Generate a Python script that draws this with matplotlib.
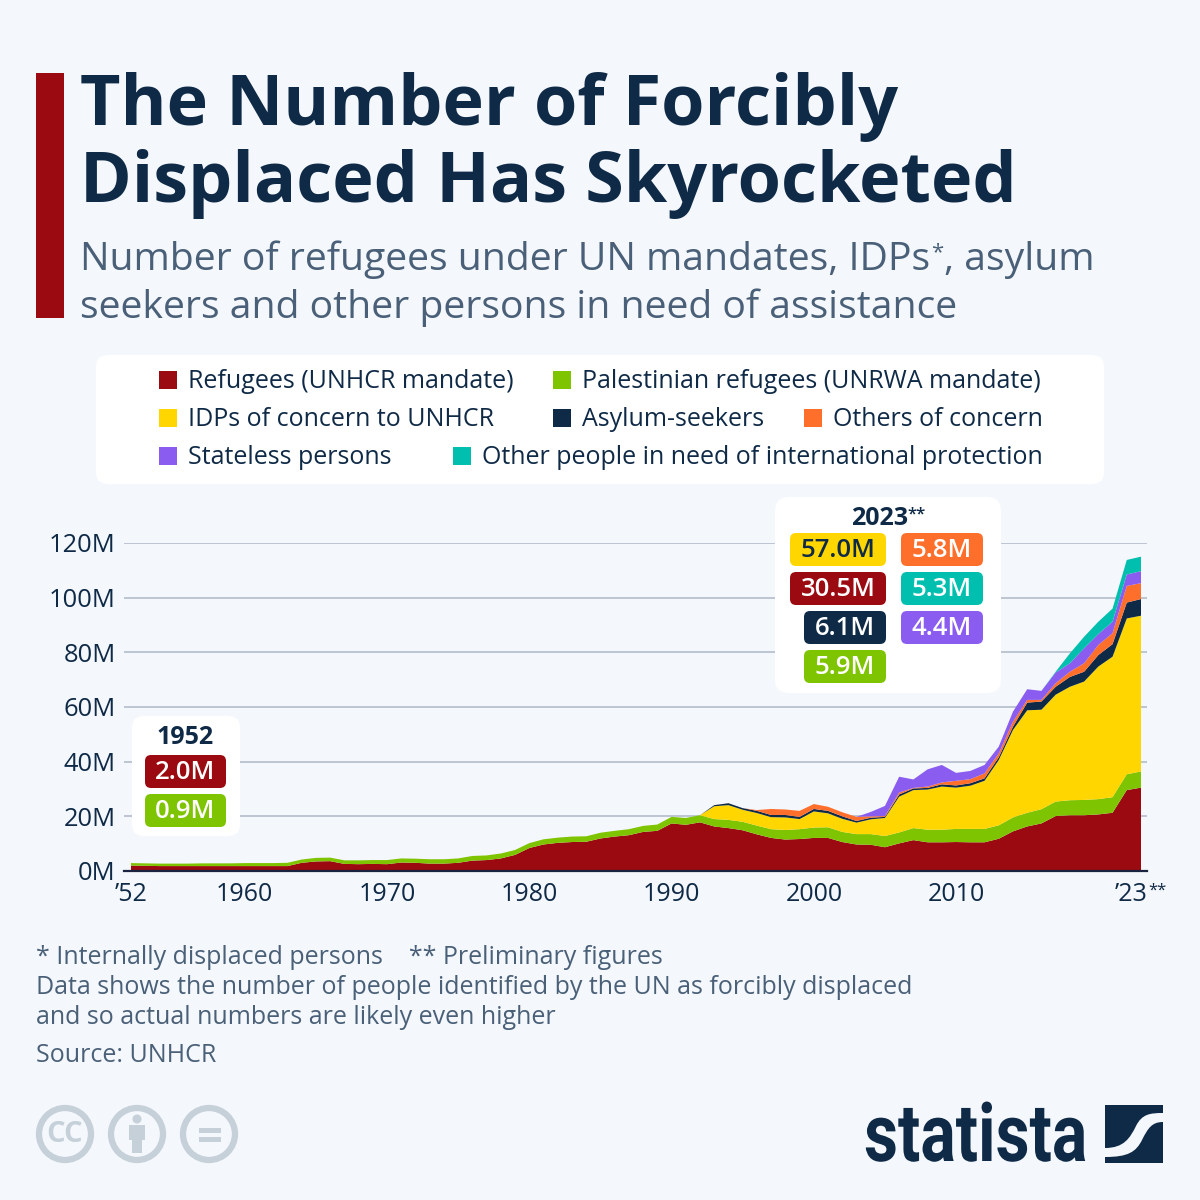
import matplotlib
matplotlib.use("Agg")
import matplotlib.pyplot as plt
from matplotlib.patches import FancyBboxPatch, Rectangle, Circle, PathPatch
from matplotlib.path import Path
from matplotlib.patheffects import AbstractPathEffect
from matplotlib.transforms import Affine2D, ScaledTranslation

years = list(range(1952, 2024))

refugees = [2.0, 1.9, 1.8, 1.8, 1.8, 1.8, 1.8, 1.8, 1.8, 1.8, 1.8, 1.8,
            3.0, 3.5, 3.6, 2.6, 2.5, 2.6, 2.5, 3.1, 3.0, 2.7, 2.7, 3.0,
            3.8, 4.0, 4.6, 5.9, 8.4, 9.7, 10.3, 10.6, 10.7, 11.9, 12.6, 13.1,
            14.3, 14.7, 17.4, 16.9, 17.8, 16.3, 15.7, 14.9, 13.4, 12.1, 11.5, 11.7,
            12.1, 12.1, 10.6, 9.7, 9.6, 8.7, 10.1, 11.3, 10.5, 10.5, 10.6, 10.5,
            10.5, 11.8, 14.5, 16.3, 17.4, 20.1, 20.4, 20.4, 20.7, 21.3, 29.6, 30.5]
palestinian = [0.9, 0.9, 0.9, 0.9, 0.9, 1.0, 1.0, 1.0, 1.1, 1.1, 1.1, 1.2,
               1.2, 1.3, 1.3, 1.3, 1.4, 1.4, 1.5, 1.5, 1.5, 1.6, 1.6, 1.6,
               1.7, 1.7, 1.8, 1.8, 1.8, 1.9, 1.9, 2.0, 2.0, 2.1, 2.1, 2.2,
               2.2, 2.3, 2.4, 2.5, 2.6, 2.7, 3.0, 3.1, 3.2, 3.2, 3.5, 3.6,
               3.8, 3.9, 3.7, 3.8, 3.9, 4.1, 4.0, 4.4, 4.6, 4.6, 4.8, 4.9,
               4.9, 4.9, 5.1, 5.0, 5.2, 5.3, 5.5, 5.6, 5.6, 5.7, 5.8, 5.9]
idps = [0] * 41 + [4.7, 5.4, 4.4, 4.6, 4.4, 4.6, 3.7, 5.9, 5.1, 4.8, 4.2, 5.4, 6.6,
                   13.1, 13.9, 14.7, 15.8, 15.1, 15.8, 17.6, 23.9, 32.0, 37.5, 36.4,
                   39.1, 41.5, 43.3, 48.5, 51.4, 57.0, 57.0]
asylum = [0] * 41 + [0.4, 0.7, 0.6, 0.8, 0.8, 0.9, 0.8, 0.9, 0.9, 0.9, 0.6, 0.6, 0.4,
                     0.8, 0.6, 0.6, 0.8, 0.8, 0.9, 0.9, 1.0, 1.2, 2.8, 3.0,
                     2.9, 3.6, 3.6, 4.2, 4.6, 5.8, 6.1]
others = [0] * 44 + [0.3, 2.2, 2.0, 2.2, 1.8, 1.5, 1.5, 1.5, 0.5, 0.3,
                     0.7, 0.2, 0.5, 0.7, 1.7, 1.5, 1.8, 1.4, 1.8, 1.0, 0.6,
                     1.3, 1.9, 3.1, 3.7, 4.0, 6.1, 5.8]
stateless = [0] * 52 + [1.6, 3.7, 5.8, 3.1, 6.3, 6.4, 2.9, 3.0, 3.1, 2.5, 3.7, 3.9, 3.3,
                        3.9, 3.1, 5.5, 4.0, 4.2, 4.2, 4.4]
other_protection = [0] * 65 + [0.3, 3.6, 4.2, 4.5, 4.8, 5.3, 5.3]

RED = "#9a0a10"
GREEN = "#7fc400"
YELLOW = "#ffd600"
NAVY = "#0f2a47"
ORANGE = "#ff6f2c"
PURPLE = "#8a5cf0"
TEAL = "#00bfae"
BG = "#f4f7fb"
SLATE = "#4a6078"
GRID = "#b4bccb"
ICON = "#c5d0d9"

colors = [RED, GREEN, YELLOW, NAVY, ORANGE, PURPLE, TEAL]
series = [refugees, palestinian, idps, asylum, others, stateless, other_protection]

y_ticks = [0, 20, 40, 60, 80, 100, 120]
y_labels = ["0M", "20M", "40M", "60M", "80M", "100M", "120M"]
x_ticks = [1952, 1960, 1970, 1980, 1990, 2000, 2010, 2023]
x_labels = ["\u201952", "1960", "1970", "1980", "1990", "2000", "2010", "\u201923"]

legend_items = [
    (159, 380, "Refugees (UNHCR mandate)", RED),
    (553, 380, "Palestinian refugees (UNRWA mandate)", GREEN),
    (159, 418, "IDPs of concern to UNHCR", YELLOW),
    (553, 418, "Asylum-seekers", NAVY),
    (804, 418, "Others of concern", ORANGE),
    (159, 456, "Stateless persons", PURPLE),
    (453, 456, "Other people in need of international protection", TEAL),
]
pills_2023 = [
    (790, 533, "57.0M", YELLOW, NAVY),
    (790, 572, "30.5M", RED, "white"),
    (804, 611, "6.1M", NAVY, "white"),
    (804, 650, "5.9M", GREEN, "white"),
    (901, 533, "5.8M", ORANGE, "white"),
    (901, 572, "5.3M", TEAL, "white"),
    (901, 611, "4.4M", PURPLE, "white"),
]
pills_1952 = [
    (145, 755, "2.0M", RED, "white"),
    (145, 794, "0.9M", GREEN, "white"),
]


class SqueezeX(AbstractPathEffect):
    # narrows the glyphs of a text, no condensed bold font is installed
    def __init__(self, sx):
        super().__init__()
        self.sx = sx

    def draw_path(self, renderer, gc, tpath, affine, rgbFace=None):
        renderer.draw_path(gc, tpath, Affine2D().scale(self.sx, 1) + affine, rgbFace)


plt.rcParams["font.family"] = ["Open Sans", "DejaVu Sans"]
fig = plt.figure(figsize=(12, 12), dpi=100, facecolor=BG)

# chart axes, placed by pixel so the scale is 1952=131px, 2023=1141px
left, right, top, bottom = 124, 1147, 543, 871
ax = fig.add_axes([left / 1200, 1 - bottom / 1200, (right - left) / 1200, (bottom - top) / 1200])
ax.set_facecolor("none")
px_per_year = (1141 - 131) / (2023 - 1952)
ax.set_xlim(1952 - (131 - left) / px_per_year, 2023 + (right - 1141) / px_per_year)
ax.set_ylim(0, 120)
ax.stackplot(years, series, colors=colors, linewidth=0, zorder=3)
ax.set_yticks(y_ticks, y_labels, fontsize=18.4, color=NAVY)
ax.set_xticks(x_ticks, x_labels, fontsize=18, color=NAVY)
ax.tick_params(axis="both", length=0)
ax.tick_params(axis="y", pad=6)
ax.tick_params(axis="x", pad=8)
# last label sits left of its tick, the stars come after it
last = ax.get_xticklabels()[-1]
last.set_transform(last.get_transform() + ScaledTranslation(-10 / 100, 0, fig.dpi_scale_trans))
ax.grid(axis="y", color=GRID, linewidth=1.2, zorder=1)
ax.set_axisbelow(True)
for side in ["top", "right", "left"]:
    ax.spines[side].set_visible(False)
ax.spines["bottom"].set_color("#1a2340")
ax.spines["bottom"].set_linewidth(1.6)
ax.spines["bottom"].set_zorder(5)

# overlay in pixel coordinates for everything around the chart
ov = fig.add_axes([0, 0, 1, 1], zorder=10)
ov.set_xlim(0, 1200)
ov.set_ylim(1200, 0)
ov.axis("off")
ov.patch.set_alpha(0)


def box(x0, y0, x1, y1, color, r=10):
    ov.add_patch(FancyBboxPatch((x0 + r, y0 + r), x1 - x0 - 2 * r, y1 - y0 - 2 * r,
                                boxstyle=f"round,pad={r},rounding_size={r}",
                                facecolor=color, edgecolor="none"))


def pills(items):
    for x0, y0, label, fill, ink in items:
        x1 = 886 if x0 in (790, 804) else (983 if x0 == 901 else 226)
        box(x0, y0, x1, y0 + 33, fill, r=6)
        ov.text((x0 + x1) / 2, y0 + 17.5, label, color=ink, fontsize=18.5, fontweight="semibold",
                ha="center", va="center")


ov.add_patch(Rectangle((36, 73), 28, 245, facecolor=RED, edgecolor="none"))
ov.text(80, 125, "The Number of Forcibly", fontsize=50.5, fontweight="bold", color=NAVY, va="baseline")
ov.text(80, 202, "Displaced Has Skyrocketed", fontsize=50.5, fontweight="bold", color=NAVY, va="baseline")
ov.text(80, 270, "Number of refugees under UN mandates, IDPs", fontsize=28.2, color=SLATE, va="baseline")
ov.text(931, 258, "*", fontsize=16, color=SLATE, va="baseline")
ov.text(1094, 270, ", asylum", fontsize=28.2, color=SLATE, va="baseline", ha="right")
ov.text(80, 318, "seekers and other persons in need of assistance", fontsize=28.2, color=SLATE, va="baseline")

box(96, 355, 1104, 484, "white", r=12)
for x, y, label, c in legend_items:
    ov.add_patch(Rectangle((x, y - 9), 18, 18, facecolor=c, edgecolor="none"))
    ov.text(x + 29, y + 2, label, fontsize=18, color=NAVY, va="center")

box(775, 497, 1001, 693, "white", r=14)
ov.text(851, 525, "2023", fontsize=18, fontweight="bold", color=NAVY, va="baseline")
ov.text(907, 518, "**", fontsize=12, fontweight="semibold", color=NAVY, va="baseline")
pills(pills_2023)

box(132, 716, 240, 836, "white", r=12)
ov.text(185, 744, "1952", fontsize=18, fontweight="bold", color=NAVY, ha="center", va="baseline")
pills(pills_1952)

ov.text(1148, 895, "**", fontsize=12, color=NAVY, va="baseline")

ov.text(36, 964, "* Internally displaced persons    ** Preliminary figures", fontsize=18, color=SLATE, va="baseline")
ov.text(36, 994, "Data shows the number of people identified by the UN as forcibly displaced", fontsize=18, color=SLATE, va="baseline")
ov.text(36, 1024, "and so actual numbers are likely even higher", fontsize=18, color=SLATE, va="baseline")
ov.text(36, 1062, "Source: UNHCR", fontsize=18, color=SLATE, va="baseline")

# licence icons
for cx in [65, 137, 209]:
    ov.add_patch(Circle((cx, 1134), 26, facecolor="none", edgecolor=ICON, linewidth=4.5))
ov.text(65, 1134, "CC", fontsize=21, fontweight="bold", color=ICON, ha="center", va="center")
ov.add_patch(Circle((137, 1119), 4.5, facecolor=ICON, edgecolor="none"))
ov.add_patch(Rectangle((129, 1125), 16, 15, facecolor=ICON, edgecolor="none"))
ov.add_patch(Rectangle((132, 1140), 10, 13, facecolor=ICON, edgecolor="none"))
ov.add_patch(Rectangle((199, 1128), 22, 5, facecolor=ICON, edgecolor="none"))
ov.add_patch(Rectangle((199, 1137), 22, 5, facecolor=ICON, edgecolor="none"))

# logo
logo = ov.text(864, 1161, "statista", fontsize=58, fontweight="bold", color=NAVY, va="baseline",
               family=["Roboto", "DejaVu Sans"])
logo.set_path_effects([SqueezeX(0.82)])
ov.add_patch(Rectangle((1105, 1105), 58, 58, facecolor=NAVY, edgecolor="none"))
swoosh = Path([(1105, 1148), (1124, 1148), (1130, 1138), (1136, 1126), (1142, 1114), (1150, 1113), (1163, 1113),
               (1163, 1122), (1152, 1122), (1148, 1128), (1142, 1140), (1136, 1152), (1128, 1157), (1105, 1157),
               (1105, 1148)],
              [Path.MOVETO, Path.CURVE4, Path.CURVE4, Path.CURVE4, Path.CURVE4, Path.CURVE4, Path.CURVE4,
               Path.LINETO, Path.CURVE4, Path.CURVE4, Path.CURVE4, Path.CURVE4, Path.CURVE4, Path.CURVE4,
               Path.CLOSEPOLY])
ov.add_patch(PathPatch(swoosh, facecolor=BG, edgecolor="none"))

fig.savefig("out.png", dpi=100, facecolor=BG)
